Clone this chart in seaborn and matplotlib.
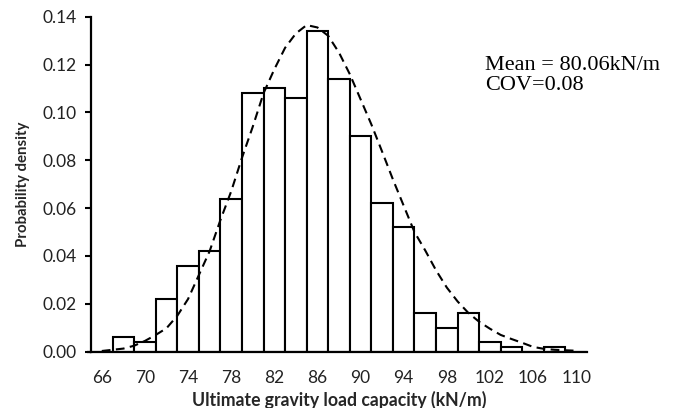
import matplotlib
matplotlib.use("Agg")
import matplotlib.pyplot as plt
import seaborn as sns
import numpy as np
import pandas as pd

# Histogram categories (bin centres, kN/m) and relative frequencies
bins = [66, 68, 70, 72, 74, 76, 78, 80, 82, 84, 86, 88, 90, 92, 94, 96, 98,
        100, 102, 104, 106, 108, 110]
freq = [0.0, 0.006, 0.004, 0.022, 0.036, 0.042, 0.064, 0.108, 0.110, 0.106,
        0.134, 0.114, 0.090, 0.062, 0.052, 0.016, 0.010, 0.016, 0.004, 0.002,
        0.0, 0.002, 0.0]

# Fitted distribution curve
curve_x = [66, 67, 68, 69, 70, 71, 72, 73, 74, 75, 76, 77, 78, 79, 80, 81, 82,
           83, 84, 85, 86, 87, 88, 89, 90, 91, 92, 93, 94, 95, 96, 97, 98, 99,
           100, 101, 102, 103, 104, 105, 106, 107, 108, 109, 110]
curve_y = [0.0003, 0.0008, 0.0013, 0.0025, 0.0045, 0.007, 0.0098, 0.015,
           0.022, 0.032, 0.042, 0.055, 0.067, 0.081, 0.094, 0.108, 0.118,
           0.127, 0.133, 0.1365, 0.1355, 0.132, 0.125, 0.116, 0.1055, 0.095,
           0.0836, 0.072, 0.061, 0.050, 0.0423, 0.034, 0.0268, 0.021, 0.0162,
           0.0125, 0.0096, 0.007, 0.0053, 0.0037, 0.002, 0.0012, 0.0008,
           0.0006, 0.0004]

xtick_labels = ["66", "70", "74", "78", "82", "86", "90", "94", "98", "102",
                "106", "110"]
y_ticks = [0.00, 0.02, 0.04, 0.06, 0.08, 0.10, 0.12, 0.14]

annotation = "Mean = 80.06kN/m\nCOV=0.08"

sns.set_theme(style="white")
plt.rcParams["font.family"] = ["Lato", "DejaVu Sans"]

fig = plt.figure(figsize=(6.78, 4.08), dpi=100)
L, R, T, B = 91, 587, 16.7, 351.7
ax = fig.add_axes([L / 678, 1 - B / 408, (R - L) / 678, (B - T) / 408])

df = pd.DataFrame({"bin": [str(b) for b in bins], "freq": freq})
sns.barplot(data=df, x="bin", y="freq", color="white", edgecolor="black",
            linewidth=1.5, width=1.0, saturation=1, ax=ax, order=df["bin"])

pos = [(c - bins[0]) / (bins[1] - bins[0]) for c in curve_x]
sns.lineplot(x=pos, y=curve_y, ax=ax, color="black", linewidth=1.5,
             sort=False)
ax.lines[-1].set_dashes([4.2, 2.6])

ax.set_xlim(-0.5, len(bins) - 0.5)
ax.set_ylim(0, 0.14)
ax.set_xticks([bins.index(int(l)) for l in xtick_labels])
ax.set_xticklabels(xtick_labels)
ax.set_yticks(y_ticks)
ax.set_yticklabels([f"{v:.2f}" for v in y_ticks])

ax.tick_params(axis="y", which="major", direction="out", length=4, width=1.5,
               left=True, labelsize=12.5, pad=6, colors="black")
ax.tick_params(axis="x", which="major", length=0, labelsize=12.5, pad=13,
               colors="black")
for t in ax.get_yticklabels() + ax.get_xticklabels():
    t.set_color("#222222")

for s in ["top", "right"]:
    ax.spines[s].set_visible(False)
for s in ["left", "bottom"]:
    ax.spines[s].set_linewidth(1.6)
    ax.spines[s].set_color("black")
# baseline extends slightly left of the y axis, as in the reference
ax.plot([-0.5 - 4.5 / ((R - L) / len(bins)), -0.5], [0, 0], color="black",
        linewidth=1.6, clip_on=False, solid_capstyle="butt")

ax.set_xlabel("Ultimate gravity load capacity (kN/m)", fontsize=12.7,
              fontweight="bold", labelpad=4)
ax.set_ylabel("Probability density", fontsize=10.8, fontweight="bold",
              labelpad=9)

ax.text(485 / 678, 1 - 56 / 408, annotation, transform=fig.transFigure,
        family="Liberation Serif", fontsize=16, va="top", ha="left",
        linespacing=1.1, color="black")

fig.savefig("out.png", dpi=100)
